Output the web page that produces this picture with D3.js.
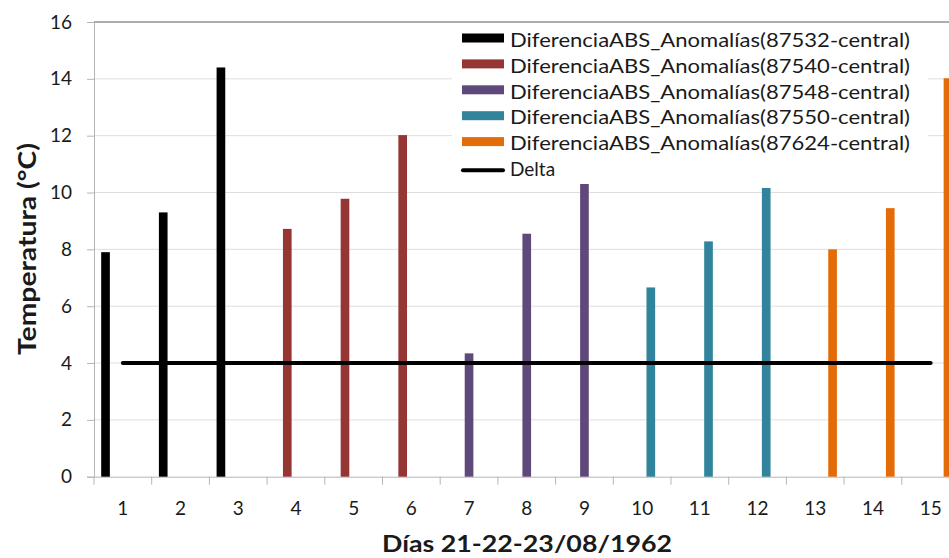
<!DOCTYPE html>
<html>
<head>
<meta charset="utf-8">
<script src="https://cdn.jsdelivr.net/npm/d3@7"></script>
<style>
  html, body { margin: 0; padding: 0; background: #fff; overflow: hidden; }
  svg { display: block; }
  text { font-family: Lato, "Noto Sans", sans-serif; fill: #1a1a1a; }
</style>
</head>
<body>
<svg id="chart" width="949" height="558"></svg>
<script>
// ---------------- data ----------------
const categories = ["1","2","3","4","5","6","7","8","9","10","11","12","13","14","15"];
const seriesNames = [
  "DiferenciaABS_Anomalías(87532-central)",
  "DiferenciaABS_Anomalías(87540-central)",
  "DiferenciaABS_Anomalías(87548-central)",
  "DiferenciaABS_Anomalías(87550-central)",
  "DiferenciaABS_Anomalías(87624-central)"
];
const seriesColors = ["#000000", "#963634", "#5f497a", "#31849b", "#e36c09"];
const values87532 = [7.9, 9.3, 14.4, null, null, null, null, null, null, null, null, null, null, null, null];
const values87540 = [null, null, null, 8.72, 9.78, 12.02, null, null, null, null, null, null, null, null, null];
const values87548 = [null, null, null, null, null, null, 4.34, 8.55, 10.36, null, null, null, null, null, null];
const values87550 = [null, null, null, null, null, null, null, null, null, 6.66, 8.28, 10.16, null, null, null];
const values87624 = [null, null, null, null, null, null, null, null, null, null, null, null, 8.0, 9.45, 14.02];
const deltaName = "Delta";
const deltaValues = [4, 4, 4, 4, 4, 4, 4, 4, 4, 4, 4, 4, 4, 4, 4];
const yTicks = [0, 2, 4, 6, 8, 10, 12, 14, 16];
const yTitle = "Temperatura (°C)";
const xTitle = "Días 21-22-23/08/1962";

const seriesValues = [values87532, values87540, values87548, values87550, values87624];

// ---------------- layout ----------------
const svg = d3.select("#chart");
const plotLeft = 94, bandW = 57.7, plotTop = 22, plotBottom = 476.7;
const plotRight = plotLeft + bandW * categories.length;

const x = d3.scaleBand().domain(categories).range([plotLeft, plotRight]).padding(0);
const xs = d3.scaleBand().domain(seriesNames).range([0, x.bandwidth()]).paddingInner(0).paddingOuter(0.83);
const y = d3.scaleLinear().domain([0, 16]).range([plotBottom, plotTop]);

// gridlines
svg.append("g").selectAll("line").data(yTicks.filter(t => t > 0)).join("line")
  .attr("x1", plotLeft).attr("x2", plotRight)
  .attr("y1", d => y(d)).attr("y2", d => y(d))
  .attr("stroke", d => d === 16 ? "#5a5a5a" : "#dedede")
  .attr("stroke-width", 1);

// y axis
const yAxis = svg.append("g").attr("transform", `translate(${plotLeft},0)`)
  .call(d3.axisLeft(y).tickValues(yTicks).tickSize(7).tickPadding(15).tickFormat(d3.format("d")));
yAxis.select(".domain").attr("stroke", "#b5b5b5");
yAxis.selectAll(".tick line").attr("stroke", "#b5b5b5");
yAxis.selectAll(".tick text").attr("font-size", 19).attr("font-family", "Lato, sans-serif").attr("fill", "#1a1a1a");

// x axis labels
const xAxis = svg.append("g").attr("transform", `translate(0,${plotBottom})`)
  .call(d3.axisBottom(x).tickSize(0).tickPadding(25));
xAxis.select(".domain").attr("stroke", "#b5b5b5");
xAxis.selectAll(".tick text").attr("font-size", 19).attr("font-family", "Lato, sans-serif").attr("fill", "#1a1a1a");
// boundary tick marks
const boundaries = categories.map(c => x(c)).concat([plotRight]);
svg.append("g").selectAll("line").data(boundaries).join("line")
  .attr("x1", d => d).attr("x2", d => d)
  .attr("y1", plotBottom).attr("y2", plotBottom + 8)
  .attr("stroke", "#b5b5b5");

// bars
const barData = [];
seriesValues.forEach((vals, si) => {
  vals.forEach((v, ci) => {
    if (v !== null) barData.push({ s: seriesNames[si], c: categories[ci], v, color: seriesColors[si] });
  });
});
svg.append("g").selectAll("rect").data(barData).join("rect")
  .attr("x", d => x(d.c) + xs(d.s))
  .attr("width", xs.bandwidth())
  .attr("y", d => y(d.v))
  .attr("height", d => y(0) - y(d.v))
  .attr("fill", d => d.color);

// delta line
const line = d3.line().x((d, i) => x(categories[i]) + x.bandwidth() / 2).y(d => y(d));
svg.append("path").datum(deltaValues)
  .attr("d", line).attr("fill", "none")
  .attr("stroke", "#000").attr("stroke-width", 4).attr("stroke-linecap", "round");

// legend
const lg = svg.append("g");
lg.append("rect").attr("x", 452).attr("y", 24).attr("width", 476).attr("height", 160).attr("fill", "#fff");
const rowBase = i => 46.7 + 25.9 * i;
seriesNames.forEach((name, i) => {
  lg.append("rect").attr("x", 462).attr("y", rowBase(i) - 13.2).attr("width", 42).attr("height", 9)
    .attr("fill", seriesColors[i]);
  lg.append("text").attr("x", 510).attr("y", rowBase(i)).attr("font-size", 19)
    .attr("textLength", 400).attr("lengthAdjust", "spacingAndGlyphs").text(name);
});
lg.append("line").attr("x1", 463).attr("x2", 503).attr("y1", rowBase(5) - 6).attr("y2", rowBase(5) - 6)
  .attr("stroke", "#000").attr("stroke-width", 4).attr("stroke-linecap", "round");
lg.append("text").attr("x", 510).attr("y", rowBase(5)).attr("font-size", 19).text(deltaName);

// axis titles
svg.append("text").attr("transform", "translate(36,249) rotate(-90)")
  .attr("text-anchor", "middle").attr("font-size", 24).attr("font-weight", "bold")
  .attr("textLength", 212).attr("lengthAdjust", "spacingAndGlyphs").text(yTitle);
svg.append("text").attr("x", 527).attr("y", 552)
  .attr("text-anchor", "middle").attr("font-size", 23).attr("font-weight", "bold")
  .attr("textLength", 290).attr("lengthAdjust", "spacingAndGlyphs").text(xTitle);
</script>
</body>
</html>
